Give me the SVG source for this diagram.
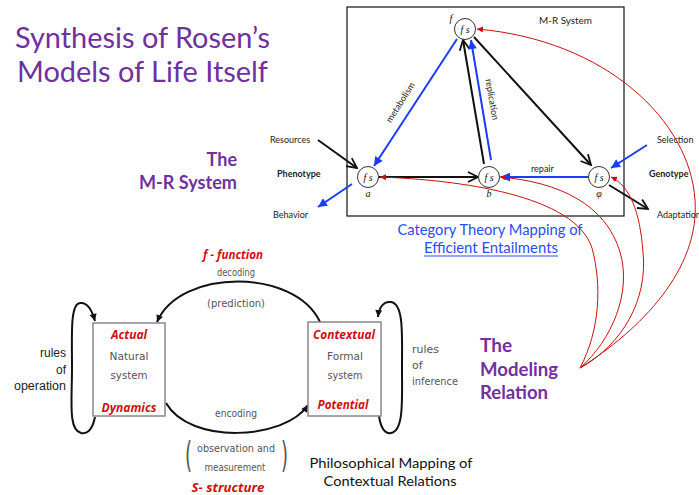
<svg xmlns="http://www.w3.org/2000/svg" width="699" height="495" viewBox="0 0 699 495">
<style>
.title{font-family:Lato,"Open Sans",sans-serif;fill:#7030a0}
.bold{font-weight:bold}
.lbl{font-family:Lato,"Open Sans",sans-serif;font-size:9px;fill:#222}
.nodeC{fill:#fff;stroke:#333;stroke-width:1}
.nodeT{font-family:"Liberation Serif",serif;font-style:italic;font-size:10px;fill:#111}
.blue{stroke:#1a3cff;stroke-width:2;fill:none}
.blk{stroke:#111;stroke-width:2;fill:none}
.red{stroke:#c81010;stroke-width:1;fill:none}
.ct{font-family:Lato,"Open Sans",sans-serif;font-size:15px;fill:#2a4df5}
.gray{font-family:"DejaVu Sans",sans-serif;font-size:11px;fill:#555}
.paren{font-family:"DejaVu Sans",sans-serif;font-size:36px;fill:#555}
.redT{font-family:"Open Sans","Liberation Sans",sans-serif;font-style:italic;font-weight:bold;font-size:12px;fill:#d01010}
.box{fill:#fff;stroke:#888;stroke-width:1.5}
.arc{stroke:#111;stroke-width:2;fill:none}
.rl{font-family:"Liberation Sans",Arial,sans-serif;font-size:12px;fill:#222}
.ph{font-family:Lato,"Open Sans",sans-serif;font-size:14px;fill:#111}
</style>
<defs>
<marker id="ahBlue" viewBox="0 0 10 10" refX="10" refY="5" markerWidth="11" markerHeight="9" markerUnits="userSpaceOnUse" orient="auto"><path d="M0,0 L10,5 L0,10 z" fill="#1a3cff"/></marker>
<marker id="ahBlack" viewBox="0 0 12 12" refX="11" refY="6" markerWidth="12" markerHeight="12" markerUnits="userSpaceOnUse" orient="auto"><path d="M1,1 L11,6 L1,11" fill="none" stroke="#111" stroke-width="1.8"/></marker>
<marker id="ahRed" viewBox="0 0 10 10" refX="10" refY="5" markerWidth="6" markerHeight="6" markerUnits="userSpaceOnUse" orient="auto"><path d="M0,0 L10,5 L0,10 z" fill="#c81010"/></marker>
<marker id="ahDark" viewBox="0 0 10 10" refX="10" refY="5" markerWidth="8" markerHeight="7" markerUnits="userSpaceOnUse" orient="auto"><path d="M0,0 L10,5 L0,10 z" fill="#111"/></marker>
</defs>
<rect width="699" height="495" fill="#fff"/>

<!-- Titles -->
<text class="title" x="15" y="48" font-size="28" textLength="255" lengthAdjust="spacingAndGlyphs">Synthesis of Rosen’s</text>
<text class="title" x="17" y="82" font-size="28" textLength="251" lengthAdjust="spacingAndGlyphs">Models of Life Itself</text>
<text class="title bold" x="237" y="166" font-size="18" text-anchor="end">The</text>
<text class="title bold" x="237" y="189" font-size="18" text-anchor="end" textLength="98" lengthAdjust="spacingAndGlyphs">M-R System</text>
<text class="title bold" x="480" y="352" font-size="19">The</text>
<text class="title bold" x="480" y="376" font-size="19" textLength="78" lengthAdjust="spacingAndGlyphs">Modeling</text>
<text class="title bold" x="480" y="399" font-size="19" textLength="68" lengthAdjust="spacingAndGlyphs">Relation</text>

<!-- M-R system frame -->
<rect x="347" y="7" width="277" height="209" fill="none" stroke="#111" stroke-width="1.2"/>
<text class="lbl" x="539" y="24" textLength="53" lengthAdjust="spacingAndGlyphs">M-R System</text>

<g id="connectors">
  <line class="blue" x1="457" y1="39" x2="374" y2="166" marker-end="url(#ahBlue)"/>
  <line class="blk" x1="484" y1="164" x2="463" y2="40" marker-end="url(#ahBlack)"/>
  <line class="blue" x1="491" y1="160" x2="471" y2="40" marker-end="url(#ahBlue)"/>
  <line class="blk" x1="474" y1="37" x2="591" y2="165" marker-end="url(#ahBlack)"/>
  <line class="blk" x1="379" y1="177" x2="478" y2="177" marker-end="url(#ahBlack)"/>
  <line class="blue" x1="588" y1="177" x2="501" y2="177" marker-end="url(#ahBlue)"/>
  <line class="blk" x1="318" y1="140" x2="357" y2="168" marker-end="url(#ahBlack)"/>
  <line class="blue" x1="352" y1="184" x2="318" y2="207" marker-end="url(#ahBlue)"/>
  <line class="blue" x1="647" y1="145" x2="611" y2="168" marker-end="url(#ahBlue)"/>
  <line class="blk" x1="609" y1="185" x2="648" y2="209" marker-end="url(#ahBlack)"/>
  <!-- red modeling relation curves -->
  <path class="red" d="M580,368 C640,330 700,270 695,200 C690,120 605,40 477,29" marker-end="url(#ahRed)"/>
  <path class="red" d="M580,368 C600,330 602,285 592,248 C575,195 460,180 380,177" marker-end="url(#ahRed)"/>
  <path class="red" d="M580,368 C612,340 632,292 620,252 C606,205 560,182 500,177" marker-end="url(#ahRed)"/>
  <path class="red" d="M580,368 C622,345 648,300 643,252 C640,212 630,186 611,177" marker-end="url(#ahRed)"/>
  <!-- Rosen modeling relation arcs -->
  <path class="arc" d="M320,322 C295,268 180,268 157,322" marker-end="url(#ahDark)"/>
  <path class="arc" d="M166,403 C190,445 285,440 308,405" marker-end="url(#ahDark)"/>
  <path class="arc" d="M95,417 C92,432 86,434 81,433 C68,430 72,400 72,368 C72,335 70,304 80,303 C88,302 92,310 95,321" marker-end="url(#ahDark)"/>
  <path class="arc" d="M379,416 C381,430 386,434 391,433 C404,431 402,400 402,368 C402,335 404,304 391,302 C383,301 379,308 378,317" marker-end="url(#ahDark)"/>
</g>

<text class="lbl" transform="translate(403,104) rotate(-57.5)" text-anchor="middle">metabolism</text>
<text class="lbl" transform="translate(489,100) rotate(80)" text-anchor="middle">replication</text>
<text class="lbl" x="531" y="172">repair</text>
<text class="lbl" x="270" y="143">Resources</text>
<text class="lbl bold" x="277" y="177">Phenotype</text>
<text class="lbl" x="273" y="218">Behavior</text>
<text class="lbl" x="657" y="143">Selection</text>
<text class="lbl bold" x="649" y="177">Genotype</text>
<text class="lbl" x="657" y="218">Adaptation</text>

<g id="node-f">
  <circle class="nodeC" cx="465" cy="29" r="10.5"/>
  <text class="nodeT" x="465" y="32.5" text-anchor="middle">f s</text>
  <text class="nodeT" x="451" y="22" text-anchor="middle">f</text>
</g>
<g id="node-a">
  <circle class="nodeC" cx="368" cy="177" r="10.5"/>
  <text class="nodeT" x="368" y="180.5" text-anchor="middle">f s</text>
  <text class="nodeT" x="368" y="197" text-anchor="middle">a</text>
</g>
<g id="node-b">
  <circle class="nodeC" cx="489" cy="177" r="10.5"/>
  <text class="nodeT" x="489" y="180.5" text-anchor="middle">f s</text>
  <text class="nodeT" x="489" y="197" text-anchor="middle">b</text>
</g>
<g id="node-phi">
  <circle class="nodeC" cx="599" cy="177" r="10.5"/>
  <text class="nodeT" x="599" y="180.5" text-anchor="middle">f s</text>
  <text class="nodeT" x="599" y="197" text-anchor="middle">φ</text>
</g>

<text class="ct" x="490" y="235" text-anchor="middle" textLength="185" lengthAdjust="spacingAndGlyphs">Category Theory Mapping of</text>
<text class="ct" x="491" y="253" text-anchor="middle" textLength="134" lengthAdjust="spacingAndGlyphs">Efficient Entailments</text>
<line x1="424" y1="256" x2="558" y2="256" stroke="#2a4df5" stroke-width="1"/>

<!-- Rosen modeling relation -->
<g id="node-natural">
  <rect class="box" x="93" y="323" width="72" height="93"/>
  <text class="redT" x="129" y="339" text-anchor="middle">Actual</text>
  <text class="gray" x="129" y="360" text-anchor="middle" textLength="39" lengthAdjust="spacingAndGlyphs">Natural</text>
  <text class="gray" x="129" y="379" text-anchor="middle" textLength="37" lengthAdjust="spacingAndGlyphs">system</text>
  <text class="redT" x="129" y="412" text-anchor="middle" textLength="55" lengthAdjust="spacingAndGlyphs">Dynamics</text>
</g>
<g id="node-formal">
  <rect class="box" x="308" y="322" width="73" height="94"/>
  <text class="redT" x="344" y="339" text-anchor="middle" textLength="62" lengthAdjust="spacingAndGlyphs">Contextual</text>
  <text class="gray" x="345" y="360" text-anchor="middle" textLength="36" lengthAdjust="spacingAndGlyphs">Formal</text>
  <text class="gray" x="345" y="379" text-anchor="middle" textLength="35" lengthAdjust="spacingAndGlyphs">system</text>
  <text class="redT" x="343" y="409" text-anchor="middle" textLength="51" lengthAdjust="spacingAndGlyphs">Potential</text>
</g>

<text class="redT" x="233" y="259" text-anchor="middle" textLength="60" lengthAdjust="spacingAndGlyphs">f - function</text>
<text class="gray" x="236" y="276" text-anchor="middle" textLength="38" lengthAdjust="spacingAndGlyphs">decoding</text>
<text class="gray" x="236" y="307" text-anchor="middle" textLength="58" lengthAdjust="spacingAndGlyphs">(prediction)</text>
<text class="gray" x="236" y="417" text-anchor="middle" textLength="42" lengthAdjust="spacingAndGlyphs">encoding</text>
<text class="gray" x="236" y="452" text-anchor="middle" textLength="78" lengthAdjust="spacingAndGlyphs">observation and</text>
<text class="gray" x="235" y="471" text-anchor="middle" textLength="61" lengthAdjust="spacingAndGlyphs">measurement</text>
<text class="paren" transform="translate(185,467) scale(0.5,1)">(</text>
<text class="paren" transform="translate(281,467) scale(0.5,1)">)</text>
<text class="redT" x="228" y="492" text-anchor="middle" textLength="73" lengthAdjust="spacingAndGlyphs">S- structure</text>

<text class="rl" x="66" y="357" text-anchor="end">rules</text>
<text class="rl" x="66" y="374" text-anchor="end">of</text>
<text class="rl" x="66" y="390" text-anchor="end" textLength="52" lengthAdjust="spacingAndGlyphs">operation</text>
<text class="gray" x="412" y="353" textLength="27" lengthAdjust="spacingAndGlyphs">rules</text>
<text class="gray" x="412" y="369">of</text>
<text class="gray" x="412" y="385" textLength="46" lengthAdjust="spacingAndGlyphs">inference</text>

<text class="ph" x="391" y="468" text-anchor="middle" textLength="163" lengthAdjust="spacingAndGlyphs">Philosophical Mapping of</text>
<text class="ph" x="390" y="486" text-anchor="middle" textLength="133" lengthAdjust="spacingAndGlyphs">Contextual Relations</text>
</svg>
